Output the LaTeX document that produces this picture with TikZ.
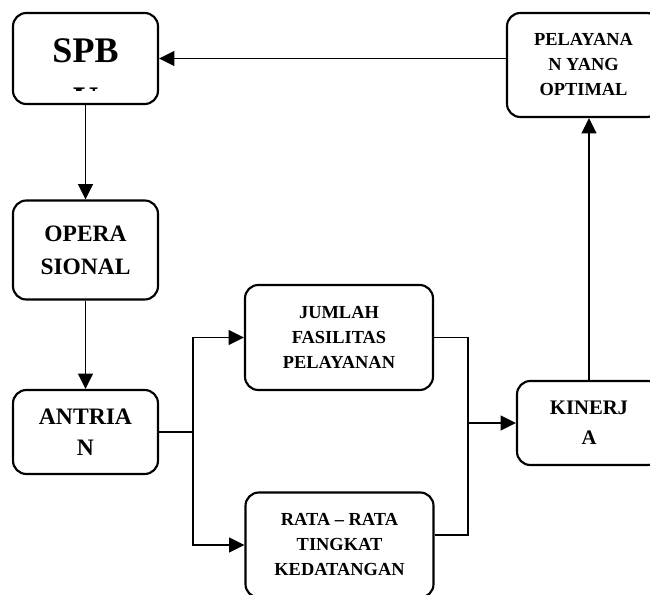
\documentclass[tikz,border=0pt]{standalone}
\usepackage{fontspec}
\setmainfont{Liberation Serif}
\usetikzlibrary{arrows.meta}
\tikzset{box/.style={draw,line width=1.6pt,rounded corners=10pt,align=center,font=\bfseries,inner sep=0pt},
	arr/.style={-{Triangle[length=11.5pt,width=11pt]},line width=1.4pt},
	lin/.style={line width=1.4pt}}
\begin{document}
\begin{tikzpicture}[x=0.75pt,y=-0.75pt]
\clip (0,0) rectangle (650,595);
\node [box,minimum width=108.75pt,minimum height=68.25pt] (spbu) at (85.5,58.5) {};
\begin{scope}
\clip (13,13) rectangle (158,91);
\node [align=center,inner sep=0pt,anchor=north,font=\bfseries\fontsize{27}{36.75}\selectfont] (spbtext) at (85.5,38) {SPB\\U};
\end{scope}
\node [box,minimum width=114.75pt,minimum height=78pt,font=\bfseries\fontsize{13.8}{18.75}\selectfont] (layan) at (583.5,65) {PELAYANA\\N YANG\\OPTIMAL};
\node [box,minimum width=108.75pt,minimum height=74.25pt,font=\bfseries\fontsize{17.6}{24.75}\selectfont] (opr) at (85.5,250) {OPERA\\SIONAL};
\node [box,minimum width=108.75pt,minimum height=63pt,font=\bfseries\fontsize{17.7}{23.25}\selectfont] (antri) at (85.5,432) {ANTRIA\\N};
\node [box,minimum width=141pt,minimum height=78.75pt,font=\bfseries\fontsize{13.8}{18.75}\selectfont] (jml) at (339,337.5) {JUMLAH\\FASILITAS\\PELAYANAN};
\node [box,minimum width=141pt,minimum height=78.75pt,font=\bfseries\fontsize{13.8}{18.75}\selectfont] (rata) at (339.5,545) {RATA -- RATA\\TINGKAT\\KEDATANGAN};
\node [box,minimum width=108pt,minimum height=63pt,font=\bfseries\fontsize{15.5}{22.5}\selectfont] (kin) at (589,423) {KINERJ\\A};
\coordinate (split) at (193,432);
\coordinate (join) at (468,423);
\draw [arr] (layan.west |- spbu.east) -- (spbu.east);
\draw [arr] (spbu.south) -- (opr.north);
\draw [arr] (opr.south) -- (antri.north);
\draw [lin] (antri.east) -- (split);
\draw [arr] (split) |- (jml.west);
\draw [arr] (split) |- (rata.west);
\draw [lin] (jml.east) -| (join);
\draw [lin] ([yshift=7.5pt]rata.east) -| (join);
\draw [arr] (join) -- (kin.west);
\draw [arr] (kin.north) -- (kin.north |- layan.south);
\end{tikzpicture}
\end{document}
